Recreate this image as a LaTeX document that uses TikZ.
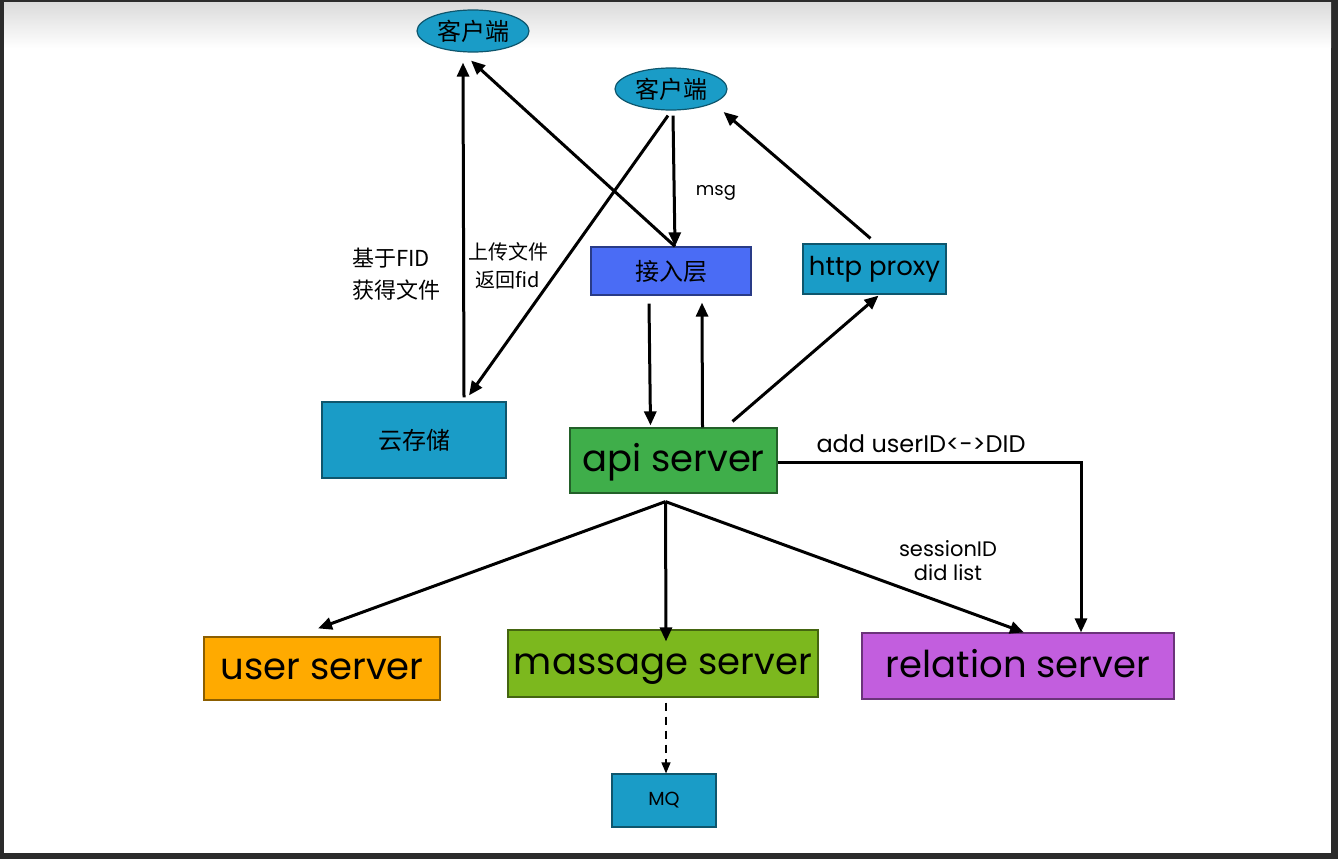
\documentclass[tikz,border=0pt]{standalone}
\usepackage{fontspec}
\setmainfont{Poppins}
\newfontfamily\zh{Noto Sans CJK SC}
\usetikzlibrary{arrows.meta,shapes.geometric}

\definecolor{frame}{HTML}{2B2B2B}
\definecolor{teal}{HTML}{1A9CC7}
\definecolor{accblue}{HTML}{4A6CF5}
\definecolor{apigreen}{HTML}{3FAE4A}
\definecolor{userorange}{HTML}{FFAA00}
\definecolor{msglime}{HTML}{7CB81E}
\definecolor{relpurple}{HTML}{C25EDE}

\begin{document}
\begin{tikzpicture}[x=1pt, y=-1pt,
  box/.style={draw=#1!55!black, fill=#1, line width=1.2pt, inner sep=0pt},
  client/.style={ellipse, box=teal, minimum width=112pt, minimum height=42pt},
  arr/.style={line width=3pt, -{Triangle[length=14pt,width=12pt]}},
  big/.style={font=\fontsize{37}{40}\selectfont, text height=26pt, text depth=4pt},
  lbl/.style={font=\fontsize{18}{22}\selectfont, align=center}]
\useasboundingbox (0,0) rectangle (1338,859);
% screen frame
\fill[frame] (0,0) rectangle (1338,859);
\fill[white] (4,3) rectangle (1331,853);
\shade[top color=black!14, bottom color=white] (4,3) rectangle (1331,48);

% clients and boxes
\node[client] (cli1) at (473,31) {\zh\fontsize{24}{26}\selectfont 客户端};
\node[client] (cli2) at (671,89) {\zh\fontsize{24}{26}\selectfont 客户端};
\node[box=accblue, minimum width=160pt, minimum height=48pt] (access) at (671,271)
  {\zh\fontsize{24}{26}\selectfont 接入层};
\node[box=teal, minimum width=143pt, minimum height=50pt] (proxy) at (874.5,269)
  {\fontsize{26}{28}\selectfont http proxy};
\node[box=teal, minimum width=184pt, minimum height=76pt] (cloud) at (414,440)
  {\zh\fontsize{24}{26}\selectfont 云存储};
\node[box=apigreen, big, minimum width=207pt, minimum height=65pt] (api) at (673.5,460.5) {api server};
\node[box=userorange, big, minimum width=236pt, minimum height=63pt] (user) at (322,668.5) {user server};
\node[box=msglime, big, minimum width=310pt, minimum height=67pt] (massage) at (663,663.5) {massage server};
\node[box=relpurple, big, minimum width=312pt, minimum height=66pt] (relation) at (1018,666) {relation server};
\node[box=teal, minimum width=104pt, minimum height=53pt] (mq) at (664,800.5)
  {\fontsize{19}{20}\selectfont MQ};

% labels
\node[lbl] (msgl) at (716,193) {msg};
\node[align=left, font=\zh\fontsize{22}{32}\selectfont] (fidget) at (396,274) {基于FID\\获得文件};
\node[align=center, font=\zh\fontsize{20}{28}\selectfont] (fidup) at (508,266) {上传文件\\返回fid};
\node[lbl, font=\fontsize{24}{26}\selectfont] (addl) at (921,444) {add userID<->DID};
\node[lbl, font=\fontsize{21}{24}\selectfont] (sessl) at (948,561) {sessionID\\did list};

% connectors
\draw[arr] ([xshift=50pt,yshift=4pt]cloud.north) -- ([xshift=-10pt,yshift=-10pt]cli1.south);
\draw[arr] ([xshift=4pt]access.north) -- ([xshift=-2pt,yshift=-8pt]cli1.south);
\draw[arr] ([xshift=2pt,yshift=-5pt]cli2.south) -- ([xshift=4pt]access.north);
\draw[arr] ([xshift=-3pt,yshift=-5pt]cli2.south) -- ([xshift=55pt,yshift=6pt]cloud.north);
\draw[arr] ([xshift=-4pt,yshift=5pt]proxy.north) -- ([xshift=-4pt,yshift=-23pt]cli2.east);
\draw[arr] ([xshift=-22pt,yshift=-8pt]access.south) -- ([xshift=-23pt,yshift=2pt]api.north);
\draw[arr] ([xshift=29pt]api.north) -- ([xshift=31pt,yshift=-7pt]access.south);
\draw[arr] ([xshift=59pt,yshift=6pt]api.north) -- ([xshift=4pt,yshift=-1pt]proxy.south);
\draw[arr] ([yshift=-1.5pt]api.east) -| ([xshift=63pt]relation.north);
\draw[arr] ([xshift=-8pt,yshift=-8pt]api.south) -- ([xshift=-4pt,yshift=8pt]user.north);
\draw[arr] ([xshift=-8pt,yshift=-8pt]api.south) -- ([xshift=3pt,yshift=-12pt]massage.north);
\draw[arr] ([xshift=-8pt,yshift=-8pt]api.south) -- ([xshift=6pt]relation.north);
\draw[arr, line width=1.4pt, dashed, dash pattern=on 8pt off 6pt,
  -{Triangle[length=11pt,width=9pt]}] ([xshift=3pt,yshift=-5pt]massage.south) -- ([xshift=2pt]mq.north);
\end{tikzpicture}
\end{document}
